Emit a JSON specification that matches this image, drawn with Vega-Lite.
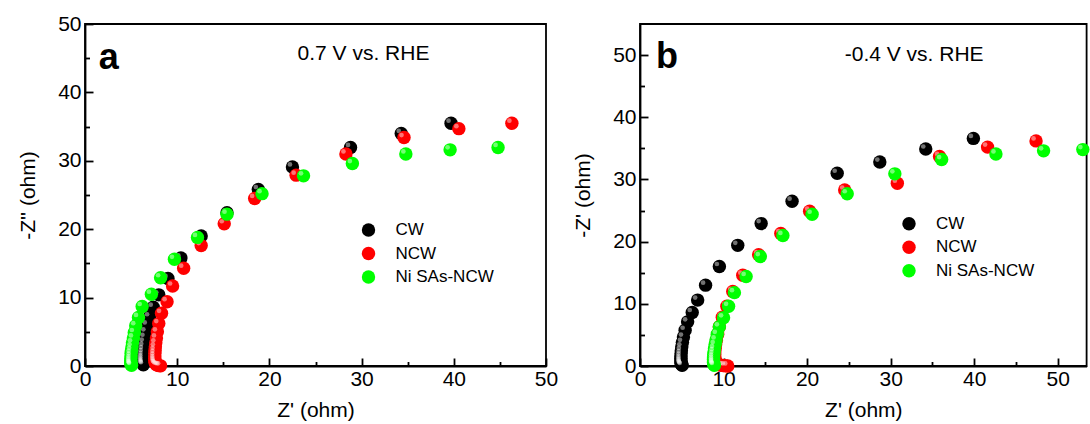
{
  "$schema": "https://vega.github.io/schema/vega-lite/v6.json",
  "padding": {"left": 16, "top": 12, "right": 0, "bottom": 0},
  "bounds": "flush",
  "spacing": 94,
  "config": {
    "font": "Liberation Sans",
    "view": {"stroke": null},
    "axis": {
      "labelFont": "Liberation Sans", "titleFont": "Liberation Sans",
      "labelFontSize": 21, "titleFontSize": 21, "titleFontWeight": "normal",
      "labelColor": "#000", "titleColor": "#000",
      "domainColor": "#000", "tickColor": "#000", "domainWidth": 1.8, "tickWidth": 1.8,
      "grid": false, "labelOverlap": false, "labelFlush": false
    },
    "legend": {
      "title": null, "orient": "none", "labelFont": "Liberation Sans", "labelFontSize": 17,
      "labelColor": "#000", "symbolType": "circle", "symbolSize": 180, "symbolStrokeWidth": 0,
      "symbolOpacity": 1, "padding": 0, "rowPadding": 5.5, "labelOffset": 18.5
    }
  },
  "resolve": {"legend": {"color": "independent"}},
  "datasets": {
    "a": [
      {"sample": "CW", "zre": 39.7, "zim": 35.5}, {"sample": "CW", "zre": 34.3, "zim": 34.0}, {"sample": "CW", "zre": 28.8, "zim": 31.95}, {"sample": "CW", "zre": 22.5, "zim": 29.1}, {"sample": "CW", "zre": 18.8, "zim": 25.8}, {"sample": "CW", "zre": 15.4, "zim": 22.4}, {"sample": "CW", "zre": 12.6, "zim": 19.0}, {"sample": "CW", "zre": 10.4, "zim": 15.8}, {"sample": "CW", "zre": 9.0, "zim": 12.8}, {"sample": "CW", "zre": 8.0, "zim": 10.4}, {"sample": "CW", "zre": 7.4, "zim": 8.6}, {"sample": "CW", "zre": 7.0, "zim": 7.2}, {"sample": "CW", "zre": 6.75, "zim": 6.0}, {"sample": "CW", "zre": 6.6, "zim": 5.0}, {"sample": "CW", "zre": 6.5, "zim": 4.2}, {"sample": "CW", "zre": 6.42, "zim": 3.5}, {"sample": "CW", "zre": 6.37, "zim": 2.9}, {"sample": "CW", "zre": 6.33, "zim": 2.4}, {"sample": "CW", "zre": 6.3, "zim": 1.95}, {"sample": "CW", "zre": 6.28, "zim": 1.55}, {"sample": "CW", "zre": 6.27, "zim": 1.2}, {"sample": "CW", "zre": 6.27, "zim": 0.9}, {"sample": "CW", "zre": 6.27, "zim": 0.65}, {"sample": "CW", "zre": 6.28, "zim": 0.45}, {"sample": "CW", "zre": 6.3, "zim": 0.3}, {"sample": "CW", "zre": 6.33, "zim": 0.18},
      {"sample": "NCW", "zre": 46.3, "zim": 35.5}, {"sample": "NCW", "zre": 40.55, "zim": 34.7}, {"sample": "NCW", "zre": 34.6, "zim": 33.4}, {"sample": "NCW", "zre": 28.3, "zim": 31.0}, {"sample": "NCW", "zre": 22.9, "zim": 27.9}, {"sample": "NCW", "zre": 18.4, "zim": 24.5}, {"sample": "NCW", "zre": 15.1, "zim": 20.8}, {"sample": "NCW", "zre": 12.6, "zim": 17.6}, {"sample": "NCW", "zre": 10.7, "zim": 14.3}, {"sample": "NCW", "zre": 9.5, "zim": 11.7}, {"sample": "NCW", "zre": 8.9, "zim": 9.4}, {"sample": "NCW", "zre": 8.3, "zim": 7.7}, {"sample": "NCW", "zre": 8.0, "zim": 6.2}, {"sample": "NCW", "zre": 7.85, "zim": 5.0}, {"sample": "NCW", "zre": 7.75, "zim": 4.1}, {"sample": "NCW", "zre": 7.68, "zim": 3.4}, {"sample": "NCW", "zre": 7.63, "zim": 2.8}, {"sample": "NCW", "zre": 7.6, "zim": 2.3}, {"sample": "NCW", "zre": 7.58, "zim": 1.85}, {"sample": "NCW", "zre": 7.57, "zim": 1.45}, {"sample": "NCW", "zre": 7.57, "zim": 1.1}, {"sample": "NCW", "zre": 7.58, "zim": 0.8}, {"sample": "NCW", "zre": 7.6, "zim": 0.55}, {"sample": "NCW", "zre": 7.65, "zim": 0.35}, {"sample": "NCW", "zre": 7.75, "zim": 0.2}, {"sample": "NCW", "zre": 7.9, "zim": 0.1}, {"sample": "NCW", "zre": 8.05, "zim": 0.05}, {"sample": "NCW", "zre": 8.2, "zim": 0.02},
      {"sample": "Ni SAs-NCW", "zre": 44.8, "zim": 31.95}, {"sample": "Ni SAs-NCW", "zre": 39.6, "zim": 31.6}, {"sample": "Ni SAs-NCW", "zre": 34.8, "zim": 31.0}, {"sample": "Ni SAs-NCW", "zre": 29.0, "zim": 29.6}, {"sample": "Ni SAs-NCW", "zre": 23.7, "zim": 27.8}, {"sample": "Ni SAs-NCW", "zre": 19.2, "zim": 25.2}, {"sample": "Ni SAs-NCW", "zre": 15.4, "zim": 22.2}, {"sample": "Ni SAs-NCW", "zre": 12.2, "zim": 18.8}, {"sample": "Ni SAs-NCW", "zre": 9.7, "zim": 15.6}, {"sample": "Ni SAs-NCW", "zre": 8.2, "zim": 12.9}, {"sample": "Ni SAs-NCW", "zre": 7.2, "zim": 10.5}, {"sample": "Ni SAs-NCW", "zre": 6.2, "zim": 8.7}, {"sample": "Ni SAs-NCW", "zre": 5.8, "zim": 7.1}, {"sample": "Ni SAs-NCW", "zre": 5.5, "zim": 5.9}, {"sample": "Ni SAs-NCW", "zre": 5.35, "zim": 4.9}, {"sample": "Ni SAs-NCW", "zre": 5.25, "zim": 4.1}, {"sample": "Ni SAs-NCW", "zre": 5.15, "zim": 3.4}, {"sample": "Ni SAs-NCW", "zre": 5.1, "zim": 2.8}, {"sample": "Ni SAs-NCW", "zre": 5.05, "zim": 2.3}, {"sample": "Ni SAs-NCW", "zre": 5.0, "zim": 1.85}, {"sample": "Ni SAs-NCW", "zre": 5.0, "zim": 1.45}, {"sample": "Ni SAs-NCW", "zre": 4.98, "zim": 1.1}, {"sample": "Ni SAs-NCW", "zre": 4.97, "zim": 0.8}, {"sample": "Ni SAs-NCW", "zre": 4.97, "zim": 0.55}, {"sample": "Ni SAs-NCW", "zre": 4.98, "zim": 0.35}, {"sample": "Ni SAs-NCW", "zre": 5.0, "zim": 0.2}, {"sample": "Ni SAs-NCW", "zre": 5.05, "zim": 0.1}
    ],
    "b": [
      {"sample": "CW", "zre": 39.9, "zim": 36.6}, {"sample": "CW", "zre": 34.2, "zim": 34.9}, {"sample": "CW", "zre": 28.7, "zim": 32.8}, {"sample": "CW", "zre": 23.6, "zim": 31.0}, {"sample": "CW", "zre": 18.2, "zim": 26.5}, {"sample": "CW", "zre": 14.5, "zim": 22.9}, {"sample": "CW", "zre": 11.7, "zim": 19.4}, {"sample": "CW", "zre": 9.5, "zim": 16.0}, {"sample": "CW", "zre": 7.85, "zim": 13.0}, {"sample": "CW", "zre": 6.9, "zim": 10.6}, {"sample": "CW", "zre": 6.25, "zim": 8.6}, {"sample": "CW", "zre": 5.7, "zim": 7.1}, {"sample": "CW", "zre": 5.4, "zim": 5.75}, {"sample": "CW", "zre": 5.2, "zim": 4.65}, {"sample": "CW", "zre": 5.08, "zim": 3.8}, {"sample": "CW", "zre": 5.0, "zim": 3.1}, {"sample": "CW", "zre": 4.95, "zim": 2.5}, {"sample": "CW", "zre": 4.92, "zim": 2.0}, {"sample": "CW", "zre": 4.9, "zim": 1.6}, {"sample": "CW", "zre": 4.9, "zim": 1.25}, {"sample": "CW", "zre": 4.9, "zim": 0.95}, {"sample": "CW", "zre": 4.9, "zim": 0.7}, {"sample": "CW", "zre": 4.92, "zim": 0.5}, {"sample": "CW", "zre": 4.95, "zim": 0.33}, {"sample": "CW", "zre": 5.0, "zim": 0.2}, {"sample": "CW", "zre": 5.05, "zim": 0.1},
      {"sample": "NCW", "zre": 47.4, "zim": 36.2}, {"sample": "NCW", "zre": 41.6, "zim": 35.2}, {"sample": "NCW", "zre": 35.85, "zim": 33.7}, {"sample": "NCW", "zre": 30.8, "zim": 29.4}, {"sample": "NCW", "zre": 24.5, "zim": 28.3}, {"sample": "NCW", "zre": 20.3, "zim": 24.9}, {"sample": "NCW", "zre": 16.85, "zim": 21.3}, {"sample": "NCW", "zre": 14.2, "zim": 17.9}, {"sample": "NCW", "zre": 12.3, "zim": 14.6}, {"sample": "NCW", "zre": 11.1, "zim": 12.0}, {"sample": "NCW", "zre": 10.4, "zim": 9.6}, {"sample": "NCW", "zre": 9.85, "zim": 7.85}, {"sample": "NCW", "zre": 9.5, "zim": 6.3}, {"sample": "NCW", "zre": 9.3, "zim": 5.1}, {"sample": "NCW", "zre": 9.15, "zim": 4.2}, {"sample": "NCW", "zre": 9.05, "zim": 3.45}, {"sample": "NCW", "zre": 9.0, "zim": 2.8}, {"sample": "NCW", "zre": 8.95, "zim": 2.3}, {"sample": "NCW", "zre": 8.95, "zim": 1.85}, {"sample": "NCW", "zre": 8.95, "zim": 1.45}, {"sample": "NCW", "zre": 8.97, "zim": 1.1}, {"sample": "NCW", "zre": 9.0, "zim": 0.8}, {"sample": "NCW", "zre": 9.1, "zim": 0.55}, {"sample": "NCW", "zre": 9.25, "zim": 0.35}, {"sample": "NCW", "zre": 9.45, "zim": 0.22}, {"sample": "NCW", "zre": 9.7, "zim": 0.12}, {"sample": "NCW", "zre": 9.95, "zim": 0.06}, {"sample": "NCW", "zre": 10.2, "zim": 0.03}, {"sample": "NCW", "zre": 10.5, "zim": 0.01},
      {"sample": "Ni SAs-NCW", "zre": 53.0, "zim": 34.8}, {"sample": "Ni SAs-NCW", "zre": 48.3, "zim": 34.6}, {"sample": "Ni SAs-NCW", "zre": 42.6, "zim": 34.1}, {"sample": "Ni SAs-NCW", "zre": 36.1, "zim": 33.2}, {"sample": "Ni SAs-NCW", "zre": 30.5, "zim": 30.9}, {"sample": "Ni SAs-NCW", "zre": 24.8, "zim": 27.7}, {"sample": "Ni SAs-NCW", "zre": 20.6, "zim": 24.4}, {"sample": "Ni SAs-NCW", "zre": 17.1, "zim": 21.0}, {"sample": "Ni SAs-NCW", "zre": 14.4, "zim": 17.6}, {"sample": "Ni SAs-NCW", "zre": 12.7, "zim": 14.4}, {"sample": "Ni SAs-NCW", "zre": 11.3, "zim": 11.8}, {"sample": "Ni SAs-NCW", "zre": 10.6, "zim": 9.6}, {"sample": "Ni SAs-NCW", "zre": 10.0, "zim": 7.75}, {"sample": "Ni SAs-NCW", "zre": 9.5, "zim": 6.3}, {"sample": "Ni SAs-NCW", "zre": 9.25, "zim": 5.1}, {"sample": "Ni SAs-NCW", "zre": 9.1, "zim": 4.2}, {"sample": "Ni SAs-NCW", "zre": 9.0, "zim": 3.45}, {"sample": "Ni SAs-NCW", "zre": 8.92, "zim": 2.8}, {"sample": "Ni SAs-NCW", "zre": 8.87, "zim": 2.3}, {"sample": "Ni SAs-NCW", "zre": 8.83, "zim": 1.85}, {"sample": "Ni SAs-NCW", "zre": 8.8, "zim": 1.45}, {"sample": "Ni SAs-NCW", "zre": 8.8, "zim": 1.1}, {"sample": "Ni SAs-NCW", "zre": 8.8, "zim": 0.8}, {"sample": "Ni SAs-NCW", "zre": 8.8, "zim": 0.55}, {"sample": "Ni SAs-NCW", "zre": 8.82, "zim": 0.35}, {"sample": "Ni SAs-NCW", "zre": 8.85, "zim": 0.2}, {"sample": "Ni SAs-NCW", "zre": 8.9, "zim": 0.1}
    ],
    "letterA": [{"zre": 1.5, "zim": 43.4, "label": "a"}],
    "noteA": [{"zre": 23.05, "zim": 44.7, "label": "0.7 V vs. RHE"}],
    "letterB": [{"zre": 1.9, "zim": 47.9, "label": "b"}],
    "noteB": [{"zre": 24.5, "zim": 49.0, "label": "-0.4 V vs. RHE"}]
  },
  "hconcat": [
    {
      "width": 461, "height": 342,
      "view": {"stroke": "#000", "strokeWidth": 1.8},
      "resolve": {"axis": {"x": "independent", "y": "independent"}},
      "layer": [
        {
          "data": {"name": "a"},
          "transform": [{"filter": "datum.sample === 'CW'"}],
          "mark": {"type": "circle", "size": 180, "opacity": 1},
          "encoding": {
            "x": {"field": "zre", "type": "quantitative", "scale": {"domain": [0, 50], "nice": false, "zero": false},
              "axis": {"orient": "bottom", "title": "Z' (ohm)", "values": [0, 10, 20, 30, 40, 50], "tickSize": -8, "labelPadding": 10, "titlePadding": 10}},
            "y": {"field": "zim", "type": "quantitative", "scale": {"domain": [0, 50], "nice": false, "zero": false},
              "axis": {"orient": "left", "title": "-Z'' (ohm)", "values": [0, 10, 20, 30, 40, 50], "tickSize": -8, "labelPadding": 12, "titlePadding": 19}},
            "color": {"field": "sample", "type": "nominal", "sort": ["CW", "NCW", "Ni SAs-NCW"],
              "scale": {"domain": ["CW", "NCW", "Ni SAs-NCW"], "range": ["#000000", "#ff0000", "#00ff00"]},
              "legend": {"legendX": 275, "legendY": 197.5}}
          }
        },
        {
          "data": {"name": "a"},
          "transform": [{"filter": "datum.sample === 'CW'"}],
          "mark": {"type": "circle", "size": 22, "color": "#ffffff", "opacity": 0.45, "xOffset": -2.5, "yOffset": -2.5},
          "encoding": {"x": {"field": "zre", "type": "quantitative", "axis": null}, "y": {"field": "zim", "type": "quantitative", "axis": null}}
        },
        {
          "data": {"name": "a"},
          "transform": [{"filter": "datum.sample === 'NCW'"}],
          "mark": {"type": "circle", "size": 180, "opacity": 1},
          "encoding": {
            "x": {"field": "zre", "type": "quantitative", "axis": null},
            "y": {"field": "zim", "type": "quantitative", "axis": null},
            "color": {"field": "sample", "type": "nominal", "sort": ["CW", "NCW", "Ni SAs-NCW"]}
          }
        },
        {
          "data": {"name": "a"},
          "transform": [{"filter": "datum.sample === 'NCW'"}],
          "mark": {"type": "circle", "size": 22, "color": "#ffffff", "opacity": 0.45, "xOffset": -2.5, "yOffset": -2.5},
          "encoding": {"x": {"field": "zre", "type": "quantitative", "axis": null}, "y": {"field": "zim", "type": "quantitative", "axis": null}}
        },
        {
          "data": {"name": "a"},
          "transform": [{"filter": "datum.sample === 'Ni SAs-NCW'"}],
          "mark": {"type": "circle", "size": 180, "opacity": 1},
          "encoding": {
            "x": {"field": "zre", "type": "quantitative", "axis": null},
            "y": {"field": "zim", "type": "quantitative", "axis": null},
            "color": {"field": "sample", "type": "nominal", "sort": ["CW", "NCW", "Ni SAs-NCW"]}
          }
        },
        {
          "data": {"name": "a"},
          "transform": [{"filter": "datum.sample === 'Ni SAs-NCW'"}],
          "mark": {"type": "circle", "size": 22, "color": "#ffffff", "opacity": 0.45, "xOffset": -2.5, "yOffset": -2.5},
          "encoding": {"x": {"field": "zre", "type": "quantitative", "axis": null}, "y": {"field": "zim", "type": "quantitative", "axis": null}}
        },
        {
          "data": {"name": "letterA"},
          "mark": {"type": "text", "align": "left", "baseline": "alphabetic", "fontSize": 36, "fontWeight": "bold", "color": "#000"},
          "encoding": {
            "x": {"field": "zre", "type": "quantitative", "axis": {"orient": "bottom", "values": [5, 15, 25, 35, 45], "tickSize": -4.5, "labels": false, "domain": false, "title": null}},
            "y": {"field": "zim", "type": "quantitative", "axis": {"orient": "left", "values": [5, 15, 25, 35, 45], "tickSize": -4.5, "labels": false, "domain": false, "title": null}},
            "text": {"field": "label"}
          }
        },
        {
          "data": {"name": "noteA"},
          "mark": {"type": "text", "align": "left", "baseline": "alphabetic", "fontSize": 21, "color": "#000"},
          "encoding": {"x": {"field": "zre", "type": "quantitative", "axis": null}, "y": {"field": "zim", "type": "quantitative", "axis": null}, "text": {"field": "label"}}
        }
      ]
    },
    {
      "width": 446.6, "height": 342,
      "view": {"stroke": "#000", "strokeWidth": 1.8},
      "resolve": {"axis": {"x": "independent", "y": "independent"}},
      "layer": [
        {
          "data": {"name": "b"},
          "transform": [{"filter": "datum.sample === 'CW'"}],
          "mark": {"type": "circle", "size": 180, "opacity": 1},
          "encoding": {
            "x": {"field": "zre", "type": "quantitative", "scale": {"domain": [0, 53.45], "nice": false, "zero": false},
              "axis": {"orient": "bottom", "title": "Z' (ohm)", "values": [0, 10, 20, 30, 40, 50], "tickSize": -8, "labelPadding": 10, "titlePadding": 10}},
            "y": {"field": "zim", "type": "quantitative", "scale": {"domain": [0, 55], "nice": false, "zero": false},
              "axis": {"orient": "left", "title": "-Z' (ohm)", "values": [0, 10, 20, 30, 40, 50], "tickSize": -8, "labelPadding": 12, "titlePadding": 19}},
            "color": {"field": "sample", "type": "nominal", "sort": ["CW", "NCW", "Ni SAs-NCW"],
              "scale": {"domain": ["CW", "NCW", "Ni SAs-NCW"], "range": ["#000000", "#ff0000", "#00ff00"]},
              "legend": {"legendX": 260.5, "legendY": 191.2}}
          }
        },
        {
          "data": {"name": "b"},
          "transform": [{"filter": "datum.sample === 'CW'"}],
          "mark": {"type": "circle", "size": 22, "color": "#ffffff", "opacity": 0.45, "xOffset": -2.5, "yOffset": -2.5},
          "encoding": {"x": {"field": "zre", "type": "quantitative", "axis": null}, "y": {"field": "zim", "type": "quantitative", "axis": null}}
        },
        {
          "data": {"name": "b"},
          "transform": [{"filter": "datum.sample === 'NCW'"}],
          "mark": {"type": "circle", "size": 180, "opacity": 1},
          "encoding": {
            "x": {"field": "zre", "type": "quantitative", "axis": null},
            "y": {"field": "zim", "type": "quantitative", "axis": null},
            "color": {"field": "sample", "type": "nominal", "sort": ["CW", "NCW", "Ni SAs-NCW"]}
          }
        },
        {
          "data": {"name": "b"},
          "transform": [{"filter": "datum.sample === 'NCW'"}],
          "mark": {"type": "circle", "size": 22, "color": "#ffffff", "opacity": 0.45, "xOffset": -2.5, "yOffset": -2.5},
          "encoding": {"x": {"field": "zre", "type": "quantitative", "axis": null}, "y": {"field": "zim", "type": "quantitative", "axis": null}}
        },
        {
          "data": {"name": "b"},
          "transform": [{"filter": "datum.sample === 'Ni SAs-NCW'"}],
          "mark": {"type": "circle", "size": 180, "opacity": 1},
          "encoding": {
            "x": {"field": "zre", "type": "quantitative", "axis": null},
            "y": {"field": "zim", "type": "quantitative", "axis": null},
            "color": {"field": "sample", "type": "nominal", "sort": ["CW", "NCW", "Ni SAs-NCW"]}
          }
        },
        {
          "data": {"name": "b"},
          "transform": [{"filter": "datum.sample === 'Ni SAs-NCW'"}],
          "mark": {"type": "circle", "size": 22, "color": "#ffffff", "opacity": 0.45, "xOffset": -2.5, "yOffset": -2.5},
          "encoding": {"x": {"field": "zre", "type": "quantitative", "axis": null}, "y": {"field": "zim", "type": "quantitative", "axis": null}}
        },
        {
          "data": {"name": "letterB"},
          "mark": {"type": "text", "align": "left", "baseline": "alphabetic", "fontSize": 36, "fontWeight": "bold", "color": "#000"},
          "encoding": {
            "x": {"field": "zre", "type": "quantitative", "axis": {"orient": "bottom", "values": [5, 15, 25, 35, 45], "tickSize": -4.5, "labels": false, "domain": false, "title": null}},
            "y": {"field": "zim", "type": "quantitative", "axis": {"orient": "left", "values": [5, 15, 25, 35, 45], "tickSize": -4.5, "labels": false, "domain": false, "title": null}},
            "text": {"field": "label"}
          }
        },
        {
          "data": {"name": "noteB"},
          "mark": {"type": "text", "align": "left", "baseline": "alphabetic", "fontSize": 21, "color": "#000"},
          "encoding": {
            "x": {"field": "zre", "type": "quantitative", "axis": null},
            "y": {"field": "zim", "type": "quantitative", "axis": null},
            "text": {"field": "label"}
          }
        }
      ]
    }
  ]
}
